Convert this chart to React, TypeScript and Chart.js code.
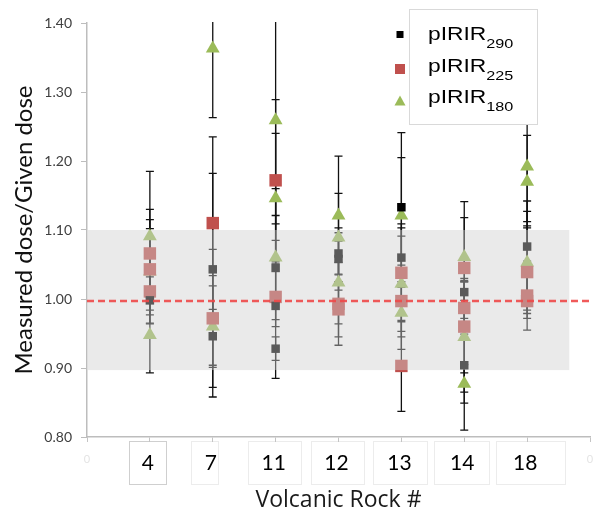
import { useEffect, useRef } from 'react';
import { Chart, registerables } from 'chart.js';

Chart.register(...registerables);

// Rock samples along the x axis (position 1..7)
const categories = ['4', '7', '11', '12', '13', '14', '18'];

// Y axis range
const Y_MIN = 0.8;
const Y_MAX = 1.4;
const Y_STEP = 0.1;

// pIRIR290: category position, measured/given dose ratio, ± error
const p290Cat = [1, 2, 2, 3, 3, 3, 4, 4, 5, 5, 6, 6, 7];
const p290Val = [0.998, 1.043, 0.946, 1.045, 0.99, 0.928, 1.066, 1.058, 1.133, 1.06, 1.01, 0.904, 1.076];
const p290Err = [0.034, 0.139, 0.088, 0.04, 0.02, 0.017, 0.03, 0.045, 0.108, 0.043, 0.02, 0.094, 0.066];

// pIRIR225
const p225Cat = [1, 1, 1, 2, 2, 3, 3, 4, 4, 5, 5, 5, 6, 6, 6, 7, 7, 7];
const p225Val = [1.066, 1.043, 1.011, 1.11, 0.972, 1.172, 1.003, 0.993, 0.985, 1.038, 0.997, 0.903, 1.045, 0.987, 0.96, 1.039, 1.005, 0.997];
const p225Err = [0.064, 0.059, 0.034, 0.125, 0.1, 0.117, 0.118, 0.06, 0.04, 0.071, 0.052, 0.066, 0.073, 0.038, 0.067, 0.067, 0.05, 0.013];

// pIRIR180
const p180Cat = [1, 1, 1, 2, 2, 3, 3, 3, 4, 4, 4, 5, 5, 5, 6, 6, 6, 7, 7, 7];
const p180Val = [1.091, 1.04, 0.948, 1.363, 0.96, 1.259, 1.146, 1.06, 1.121, 1.089, 1.024, 1.121, 1.022, 0.98, 1.061, 0.945, 0.877, 1.192, 1.17, 1.053];
const p180Err = [0.094, 0.075, 0.055, 0.1, 0.059, 0.15, 0.094, 0.1, 0.086, 0.064, 0.06, 0.084, 0.069, 0.053, 0.08, 0.08, 0.028, 0.08, 0.067, 0.074];

// Legend text: base name and subscript
const seriesBase = ['pIRIR', 'pIRIR', 'pIRIR'];
const seriesSub = ['290', '225', '180'];

// ±10% acceptance band and the unity reference line
const BAND_LOW = 0.897;
const BAND_HIGH = 1.1;
const BAND_X_END = 7.67;
const REF_LINE = 0.997;

// Label box extents relative to each tick (px)
const boxLeft = [-21, -22, -28, -28, -28, -30, -31];
const boxRight = [16, 5, 25, 25, 26, 25, 38];

type Pt = { x: number; y: number; err: number };

const toPoints = (cat: number[], val: number[], err: number[]): Pt[] =>
  cat.map((c, i) => ({ x: c, y: val[i], err: err[i] }));

const errorBars = {
  id: 'errorBars',
  beforeDatasetsDraw(chart: any) {
    const { ctx, chartArea, scales } = chart;
    const xs = scales.x;
    const ys = scales.y;
    ctx.save();
    ctx.beginPath();
    ctx.rect(chartArea.left, chartArea.top - 1, chartArea.right - chartArea.left, chartArea.bottom - chartArea.top + 1);
    ctx.clip();
    ctx.strokeStyle = '#111';
    ctx.lineWidth = 1.3;
    chart.data.datasets.forEach((ds: any) => {
      ds.data.forEach((p: Pt) => {
        const px = xs.getPixelForValue(p.x);
        const hi = ys.getPixelForValue(p.y + p.err);
        const lo = ys.getPixelForValue(p.y - p.err);
        ctx.beginPath();
        ctx.moveTo(px, hi);
        ctx.lineTo(px, lo);
        ctx.moveTo(px - 4, hi);
        ctx.lineTo(px + 4, hi);
        ctx.moveTo(px - 4, lo);
        ctx.lineTo(px + 4, lo);
        ctx.stroke();
      });
    });
    ctx.restore();
  },
};

const bandAndReference = {
  id: 'bandAndReference',
  afterDatasetsDraw(chart: any) {
    const { ctx, scales } = chart;
    const xs = scales.x;
    const ys = scales.y;
    const x0 = xs.getPixelForValue(0) + 1;
    const x1 = xs.getPixelForValue(BAND_X_END);
    const yTop = ys.getPixelForValue(BAND_HIGH);
    const yBot = ys.getPixelForValue(BAND_LOW);
    ctx.save();
    ctx.fillStyle = 'rgba(207,207,207,0.435)';
    ctx.fillRect(x0, yTop, x1 - x0, yBot - yTop);
    const yr = ys.getPixelForValue(REF_LINE);
    ctx.strokeStyle = 'rgba(238,72,72,0.9)';
    ctx.lineWidth = 2.5;
    ctx.setLineDash([7, 4]);
    ctx.beginPath();
    ctx.moveTo(xs.getPixelForValue(0), yr);
    ctx.lineTo(xs.getPixelForValue(8), yr);
    ctx.stroke();
    ctx.restore();
  },
};

const labelBoxes = {
  id: 'labelBoxes',
  beforeDraw(chart: any) {
    const { ctx, scales } = chart;
    const xs = scales.x;
    ctx.save();
    ctx.fillStyle = '#fff';
    ctx.fillRect(0, 0, chart.width, chart.height);
    categories.forEach((_, i) => {
      const px = Math.round(xs.getPixelForValue(i + 1));
      const l = px + boxLeft[i];
      const r = px + boxRight[i];
      ctx.strokeStyle = i === 0 ? '#cfcfcf' : '#ececec';
      ctx.lineWidth = 1;
      ctx.strokeRect(l + 0.5, 441.5, r - l, 43);
    });
    ctx.restore();
  },
  afterDraw(chart: any) {
    const { ctx, scales } = chart;
    const xs = scales.x;
    ctx.save();
    ctx.fillStyle = '#e4e4e4';
    ctx.font = '11px Lato';
    ctx.textAlign = 'center';
    ctx.textBaseline = 'middle';
    ctx.fillText('0', xs.getPixelForValue(0), 459);
    ctx.fillText('0', xs.getPixelForValue(8), 459);
    ctx.restore();
  },
};

const subLegend = {
  id: 'subLegend',
  afterDraw(chart: any) {
    const { ctx } = chart;
    ctx.save();
    ctx.fillStyle = '#fff';
    ctx.fillRect(409, 9, 129, 116);
    ctx.strokeStyle = '#d9d9d9';
    ctx.lineWidth = 1;
    ctx.strokeRect(409.5, 9.5, 128, 115);
    const rows = [34.5, 69, 101.5];
    const baselines = [40, 72, 103];
    chart.data.datasets.forEach((ds: any, i: number) => {
      const cy = rows[i];
      ctx.fillStyle = ds.backgroundColor;
      if (ds.pointStyle === 'triangle') {
        ctx.beginPath();
        ctx.moveTo(400, cy - 6);
        ctx.lineTo(405.5, cy + 4);
        ctx.lineTo(394.5, cy + 4);
        ctx.closePath();
        ctx.fill();
      } else {
        const s = i === 0 ? 7 : 10;
        ctx.fillRect(400 - s / 2, cy - s / 2, s, s);
      }
      ctx.fillStyle = '#000';
      ctx.textBaseline = 'alphabetic';
      ctx.textAlign = 'left';
      ctx.save();
      ctx.translate(428, baselines[i]);
      ctx.scale(1.2, 1);
      ctx.font = '19px "Liberation Sans"';
      ctx.fillText(seriesBase[i], 0, 0);
      const w = ctx.measureText(seriesBase[i]).width;
      ctx.font = '13.5px "Liberation Sans"';
      ctx.fillText(seriesSub[i], w, 8);
      ctx.restore();
    });
    ctx.restore();
  },
};

export default function App() {
  const ref = useRef<HTMLCanvasElement>(null);

  useEffect(() => {
    const canvas = ref.current;
    if (!canvas) return;
    const chart = new Chart(canvas, {
      type: 'scatter',
      data: {
        datasets: [
          {
            label: 'pIRIR290',
            data: toPoints(p290Cat, p290Val, p290Err),
            pointStyle: 'rect',
            pointRadius: 6,
            backgroundColor: '#000000',
            borderColor: '#000000',
            borderWidth: 0,
          },
          {
            label: 'pIRIR225',
            data: toPoints(p225Cat, p225Val, p225Err),
            pointStyle: 'rect',
            pointRadius: 8.8,
            backgroundColor: '#C0504D',
            borderColor: '#C0504D',
            borderWidth: 0,
          },
          {
            label: 'pIRIR180',
            data: toPoints(p180Cat, p180Val, p180Err),
            pointStyle: 'triangle',
            pointRadius: 8,
            backgroundColor: '#9BBB59',
            borderColor: '#9BBB59',
            borderWidth: 0,
          },
        ] as any,
      },
      options: {
        animation: false,
        responsive: false,
        events: [],
        layout: { padding: { top: 23, right: 0, bottom: 0, left: 0 } },
        plugins: {
          legend: { display: false },
          tooltip: { enabled: false },
        },
        scales: {
          x: {
            type: 'linear',
            min: 0,
            max: 8,
            afterFit: (s: any) => {
              s.height = 80;
            },
            afterBuildTicks: (s: any) => {
              s.ticks = [0, 1, 2, 3, 4, 5, 6, 7, 8].map((v) => ({ value: v }));
            },
            ticks: {
              autoSkip: false,
              maxRotation: 0,
              padding: 9,
              labelOffset: -2,
              callback: (v: any) => (v >= 1 && v <= 7 ? categories[v - 1] : ''),
              font: { family: 'Lato', size: 21 },
              color: '#000',
            },
            grid: { drawOnChartArea: false, drawTicks: true, tickLength: 5, color: '#c4c4c4' },
            border: { color: '#bdbdbd', width: 1.5 },
            title: {
              display: true,
              text: 'Volcanic Rock #',
              font: { family: 'Open Sans', size: 23 },
              color: '#1a1a1a',
              padding: { top: 0, bottom: 3 },
            },
          },
          y: {
            min: Y_MIN,
            max: Y_MAX,
            afterFit: (s: any) => {
              s.width = 87;
            },
            ticks: {
              stepSize: Y_STEP,
              padding: 9,
              callback: (v: any) => Number(v).toFixed(2),
              font: { family: 'Lato', size: 14 },
              color: '#404040',
            },
            grid: { drawOnChartArea: false, drawTicks: true, tickLength: 6, color: '#bdbdbd' },
            border: { color: '#bdbdbd', width: 1.5 },
            title: {
              display: true,
              text: 'Measured dose/Given dose',
              font: { family: 'Lato', size: 24 },
              color: '#111',
              padding: { top: 10, bottom: 0 },
            },
          },
        },
      },
      plugins: [labelBoxes, errorBars, bandAndReference, subLegend],
    });
    return () => chart.destroy();
  }, []);

  return (
    <div style={{ position: 'fixed', left: 0, top: 0, width: 599, height: 517, background: '#fff' }}>
      <canvas ref={ref} width={599} height={517} style={{ display: 'block' }} />
    </div>
  );
}
